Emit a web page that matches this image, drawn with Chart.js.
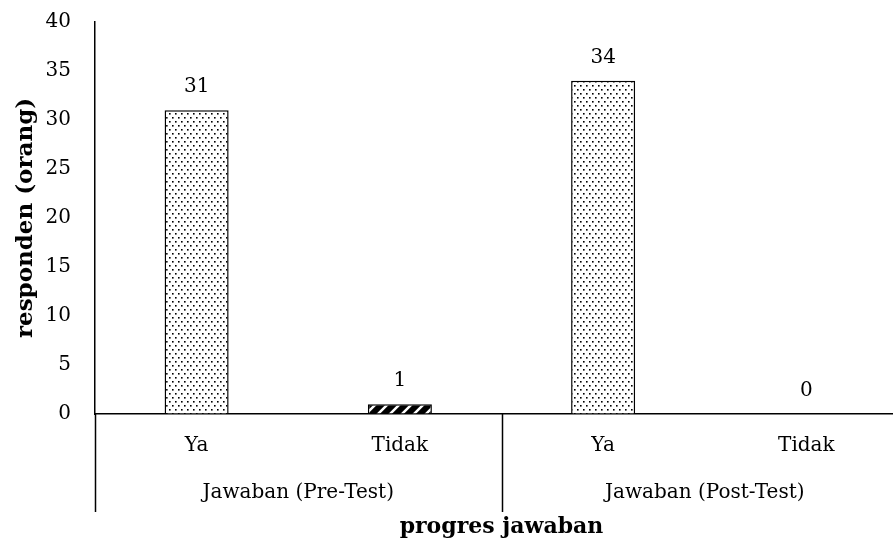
<!DOCTYPE html>
<html>
<head>
<meta charset="utf-8">
<script src="https://cdn.jsdelivr.net/npm/chart.js@4/dist/chart.umd.min.js"></script>
<style>
  html, body { margin: 0; padding: 0; background: #fff; overflow: hidden; }
  #wrap { width: 893px; height: 542px; overflow: hidden; }
  canvas { display: block; }
</style>
</head>
<body>
<div id="wrap"><canvas id="chart" width="908" height="542"></canvas></div>
<script>
// data
const categories = ['Ya', 'Tidak', 'Ya', 'Tidak'];
const groupLabels = ['Jawaban (Pre-Test)', 'Jawaban (Post-Test)'];
const responden = [31, 1, 34, 0];
const yMin = 0;
const yMax = 40;
const yStep = 5;

const FONT = "'DejaVu Serif', 'Liberation Serif', serif";

// fill patterns like the original (dots for "Ya", slashes for "Tidak")
const makeDots = () => {
  const c = document.createElement('canvas');
  c.width = 6; c.height = 8;
  const g = c.getContext('2d');
  g.fillStyle = '#fff';
  g.fillRect(0, 0, 6, 8);
  g.fillStyle = '#000';
  [[1, 1], [4, 5]].forEach(([x, y]) => g.fillRect(x, y, 1.6, 1.6));
  return g.createPattern(c, 'repeat');
};

const makeSlashes = () => {
  const c = document.createElement('canvas');
  c.width = 12; c.height = 12;
  const g = c.getContext('2d');
  g.fillStyle = '#000';
  g.fillRect(0, 0, 12, 12);
  g.strokeStyle = '#fff';
  g.lineWidth = 2.5;
  g.beginPath();
  g.moveTo(-3, 15); g.lineTo(15, -3);
  g.moveTo(-9, 9); g.lineTo(9, -9);
  g.moveTo(3, 21); g.lineTo(21, 3);
  g.stroke();
  return g.createPattern(c, 'repeat');
};

const dots = makeDots();
const slashes = makeSlashes();

// value labels, group labels and the separators under the axis
const extrasPlugin = {
  id: 'extras',
  afterDraw(chart) {
    const ctx = chart.ctx;
    const area = chart.chartArea;
    const xs = chart.scales.x;
    const bars = chart.getDatasetMeta(0).data;
    ctx.save();
    ctx.fillStyle = '#000';
    ctx.font = '20px ' + FONT;
    ctx.textAlign = 'center';
    ctx.textBaseline = 'middle';
    bars.forEach((bar, i) => {
      ctx.fillText(String(responden[i]), bar.x, bar.y - 23);
    });

    const slot = xs.getPixelForValue(1) - xs.getPixelForValue(0);
    const bounds = [
      xs.getPixelForValue(0) - slot / 2,
      xs.getPixelForValue(1) + slot / 2,
      xs.getPixelForValue(3) + slot / 2
    ];
    ctx.strokeStyle = '#000';
    ctx.lineWidth = 1.5;
    ctx.beginPath();
    bounds.forEach(x => {
      ctx.moveTo(Math.round(x) + 0.5, area.bottom);
      ctx.lineTo(Math.round(x) + 0.5, 512);
    });
    ctx.stroke();

    groupLabels.forEach((label, i) => {
      ctx.fillText(label, (bounds[i] + bounds[i + 1]) / 2, 493);
    });
    ctx.restore();
  }
};

new Chart(document.getElementById('chart'), {
  type: 'bar',
  data: {
    labels: categories,
    datasets: [{
      data: responden,
      backgroundColor: [dots, slashes, dots, slashes],
      borderColor: '#000',
      borderWidth: 1.5,
      barPercentage: 0.315,
      categoryPercentage: 1
    }]
  },
  options: {
    responsive: false,
    animation: false,
    layout: { padding: { top: 0, left: 0, right: 0, bottom: 0 } },
    plugins: {
      legend: { display: false },
      tooltip: { enabled: false }
    },
    scales: {
      x: {
        grid: { display: false, drawTicks: false },
        border: { display: true, color: '#000', width: 1.5 },
        ticks: { color: '#000', font: { family: FONT, size: 20 }, padding: 20, maxRotation: 0 },
        title: {
          display: true,
          text: 'progres jawaban',
          color: '#000',
          font: { family: FONT, size: 22, weight: 'bold' },
          padding: { top: 0, bottom: 2 }
        },
        afterFit: scale => { scale.height = 128; }
      },
      y: {
        min: yMin,
        max: yMax,
        // invisible tick marks only push the labels away from the axis line
        grid: { display: true, drawOnChartArea: false, drawTicks: true, tickLength: 14, color: 'rgba(0,0,0,0)' },
        border: { display: true, color: '#000', width: 1.5 },
        ticks: { stepSize: yStep, color: '#000', font: { family: FONT, size: 20 }, padding: 10 },
        title: {
          display: true,
          text: 'responden (orang)',
          color: '#000',
          font: { family: FONT, size: 23, weight: 'bold' },
          padding: { top: 12, bottom: 0 }
        },
        afterFit: scale => { scale.width = 95; }
      }
    }
  },
  plugins: [extrasPlugin]
});
</script>
</body>
</html>
